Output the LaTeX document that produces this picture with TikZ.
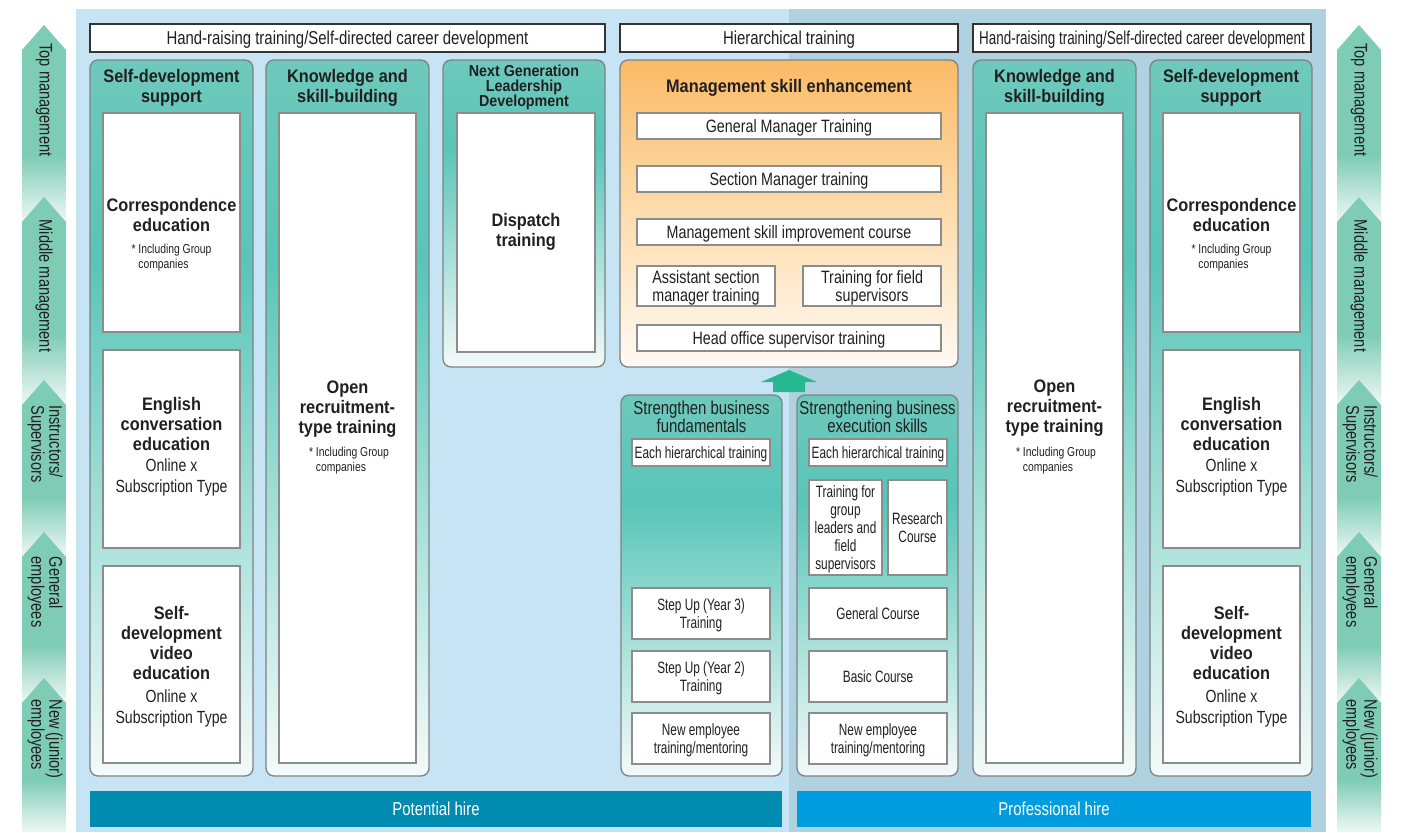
\documentclass[tikz,border=0pt]{standalone}
\usepackage{fontspec}
\setmainfont{Liberation Sans}[FakeStretch=0.8]
\newfontfamily\bdfam{Liberation Sans}[FakeStretch=0.9]
\newfontfamily\cnfam{Liberation Sans}[FakeStretch=0.72]

\definecolor{bgL}{RGB}{199,228,244}
\definecolor{bgR}{RGB}{176,210,224}
\definecolor{txt}{RGB}{35,31,32}
\definecolor{tealtop}{RGB}{110,201,188}
\definecolor{tealmid}{RGB}{88,197,184}
\definecolor{tealbot}{RGB}{244,250,249}
\definecolor{ortop}{RGB}{251,186,102}
\definecolor{ormid}{RGB}{253,214,160}
\definecolor{orbot}{RGB}{255,250,243}
\definecolor{arrgreen}{RGB}{126,204,180}
\definecolor{arrbot}{RGB}{240,248,245}
\definecolor{colborder}{RGB}{125,132,133}
\definecolor{boxborder}{RGB}{140,140,140}
\definecolor{potcol}{RGB}{0,139,176}
\definecolor{procol}{RGB}{0,157,222}
\definecolor{upgreen}{RGB}{40,184,145}

\pgfdeclareverticalshading{tealshade}{100bp}{color(0bp)=(tealbot); color(25bp)=(tealbot); color(61bp)=(tealmid); color(75bp)=(tealtop); color(100bp)=(tealtop)}
\pgfdeclareverticalshading{orshade}{100bp}{color(0bp)=(orbot); color(25bp)=(orbot); color(55bp)=(ormid); color(75bp)=(ortop); color(100bp)=(ortop)}
\pgfdeclareverticalshading{arrshade}{100bp}{color(0bp)=(arrbot); color(25bp)=(arrbot); color(42bp)=(arrgreen); color(75bp)=(arrgreen); color(100bp)=(arrgreen)}

\newcommand\incgroup{\begin{tabular}{@{}l@{}}* Including Group\\\hphantom{* }companies\end{tabular}}

\tikzset{
  wh/.style 2 args={minimum width={#1*0.75pt}, minimum height={#2*0.75pt}},
  hdr/.style={draw=black!80, fill=white, line width=0.8pt, inner sep=0pt, text=txt, text depth=0pt, font=\fontsize{14}{16}\selectfont},
  col/.style={draw=colborder, line width=1pt, rounded corners=6pt, shade, shading=tealshade, inner sep=0pt},
  orcol/.style={draw=colborder, line width=1pt, rounded corners=6pt, shade, shading=orshade, inner sep=0pt},
  wbox/.style={draw=boxborder, line width=1pt, fill=white, inner sep=0pt},
  lbl/.style={text=txt, align=center, inner sep=0pt},
  ttl/.style={lbl, font=\bdfam\bfseries\fontsize{13.6}{15}\selectfont},
  sub/.style={lbl, font=\fontsize{13.2}{15.5}\selectfont},
  notetxt/.style={lbl, font=\fontsize{9.7}{11}\selectfont},
  otxt/.style={lbl, text depth=0pt, font=\fontsize{13.4}{12.8}\selectfont},
  stxt/.style={lbl, text depth=0pt, font=\cnfam\fontsize{12.3}{13.5}\selectfont},
  ctitle/.style={lbl, font=\fontsize{14}{13.3}\selectfont},
  side/.style={text=txt, align=left, inner sep=0pt, rotate=-90, font=\fontsize{13.7}{13.5}\selectfont},
  bar/.style={inner sep=0pt, text=white, font=\fontsize{14}{16}\selectfont},
}

\begin{document}
\begin{tikzpicture}[x=0.75pt,y=-0.75pt]
\useasboundingbox (0,0) rectangle (1423,832);
\fill[bgL] (76,9) rectangle (789,832);
\fill[bgR] (789,9) rectangle (1326,832);

% side arrows
\foreach \xa/\xb in {22/66, 1337/1381}{
  \foreach \t/\b in {25/222, 197/405, 380/557, 532/703, 678/832}{
    \shade[shading=arrshade] (\xa,\t+25) -- ({(\xa+\xb)/2},\t) -- (\xb,\t+25) -- (\xb,\b) -- (\xa,\b) -- cycle;
  }
}
\node[side] (la1) at (44,100) {Top management};
\node[side] (la2) at (44,286) {Middle management};
\node[side] (la3) at (45,444) {Instructors/\\Supervisors};
\node[side] (la4) at (45,592) {General\\employees};
\node[side] (la5) at (45,739) {New (junior)\\employees};
\node[side] (ra1) at (1359,100) {Top management};
\node[side] (ra2) at (1359,286) {Middle management};
\node[side] (ra3) at (1360,444) {Instructors/\\Supervisors};
\node[side] (ra4) at (1360,592) {General\\employees};
\node[side] (ra5) at (1360,739) {New (junior)\\employees};

% headers
\node[hdr, wh={515}{28}] (h1) at (347.5,38) {Hand-raising training/Self-directed career development};
\node[hdr, wh={338}{28}] (h2) at (789,38) {Hierarchical training};
\node[hdr, wh={338}{28}, font=\cnfam\fontsize{14}{16}\selectfont] (h3) at (1142,38) {Hand-raising training/Self-directed career development};

% columns
\node[col, wh={163}{716}] (c1) at (171.5,418) {};
\node[col, wh={163}{716}] (c2) at (347.5,418) {};
\node[col, wh={162}{307}] (c3) at (524,213.5) {};
\node[orcol, wh={338}{307}] (c0) at (789,213.5) {};
\node[col, wh={161}{381}] (c4) at (701.5,585.5) {};
\node[col, wh={161}{381}] (c5) at (877.5,585.5) {};
\node[col, wh={163}{716}] (c6) at (1054.5,418) {};
\node[col, wh={162}{716}] (c7) at (1231,418) {};

% column 1
\node[ttl] (t1) at (171.5,88) {Self-development\\support};
\node[wbox, wh={137}{219}] (b11) at (171.5,222.5) {};
\node[wbox, wh={137}{198}] (b12) at (171.5,449) {};
\node[wbox, wh={137}{197}] (b13) at (171.5,664.5) {};
\node[ttl] (b11t) at (171.5,215) {Correspondence\\education};
\node[notetxt] (b11n) at (171.5,258) {\incgroup};
\node[ttl] (b12t) at (171.5,424) {English\\conversation\\education};
\node[sub] (b12s) at (171.5,477.5) {Online x\\Subscription Type};
\node[ttl] (b13t) at (171.5,643) {Self-\\development\\video\\education};
\node[sub] (b13s) at (171.5,708.5) {Online x\\Subscription Type};

% column 2
\node[ttl] (t2) at (347.5,88) {Knowledge and\\skill-building};
\node[wbox, wh={137}{650}] (b21) at (347.5,438) {};
\node[ttl] (b21t) at (347.5,409) {Open\\recruitment-\\type training};
\node[notetxt] (b21n) at (349,461) {\incgroup};

% column 3
\node[lbl, font=\bdfam\bfseries\fontsize{11.9}{11.3}\selectfont] (t3) at (524,87) {Next Generation\\Leadership\\Development};
\node[wbox, wh={138}{239}] (b31) at (526,232.5) {};
\node[ttl] (b31t) at (526,232) {Dispatch\\training};

% management skill enhancement
\node[ttl] (t0) at (789,88) {Management skill enhancement};
\node[wbox, wh={304}{26}, otxt] (gm) at (789,126) {General Manager Training};
\node[wbox, wh={304}{26}, otxt] (sm) at (789,179) {Section Manager training};
\node[wbox, wh={304}{26}, otxt] (msi) at (789,232) {Management skill improvement course};
\node[wbox, wh={138}{40}, otxt] (asm) at (706,286) {Assistant section\\manager training};
\node[wbox, wh={138}{40}, otxt] (tfs) at (872,286) {Training for field\\supervisors};
\node[wbox, wh={304}{26}, otxt] (hos) at (789,338) {Head office supervisor training};

% up arrow
\fill[upgreen] (773,392) -- (773,382) -- (761,382) -- (789,370) -- (817,382) -- (805,382) -- (805,392) -- cycle;

% column 4
\node[ctitle] (t4) at (701.5,417) {Strengthen business\\fundamentals};
\node[wbox, wh={138}{27}, stxt] (b41) at (701,452.5) {Each hierarchical training};
\node[wbox, wh={138}{51}, stxt] (b42) at (701,613.5) {Step Up (Year 3)\\Training};
\node[wbox, wh={138}{51}, stxt] (b43) at (701,676.5) {Step Up (Year 2)\\Training};
\node[wbox, wh={138}{51}, stxt] (b44) at (701,738.5) {New employee\\training/mentoring};

% column 5
\node[ctitle] (t5) at (877.5,417) {Strengthening business\\execution skills};
\node[wbox, wh={138}{27}, stxt] (b51) at (878,452.5) {Each hierarchical training};
\node[wbox, wh={73}{95}, stxt] (b52) at (845.5,527.5) {Training for\\group\\leaders and\\field\\supervisors};
\node[wbox, wh={59}{95}, stxt] (b53) at (917.5,527.5) {Research\\Course};
\node[wbox, wh={138}{51}, stxt] (b54) at (878,613.5) {General Course};
\node[wbox, wh={138}{51}, stxt] (b55) at (878,676.5) {Basic Course};
\node[wbox, wh={138}{51}, stxt] (b56) at (878,738.5) {New employee\\training/mentoring};

% column 6
\node[ttl] (t6) at (1054.5,88) {Knowledge and\\skill-building};
\node[wbox, wh={137}{650}] (b61) at (1054.5,438) {};
\node[ttl] (b61t) at (1054.5,408) {Open\\recruitment-\\type training};
\node[notetxt] (b61n) at (1056,461) {\incgroup};

% column 7
\node[ttl] (t7) at (1231,88) {Self-development\\support};
\node[wbox, wh={137}{219}] (b71) at (1231.5,222.5) {};
\node[wbox, wh={137}{198}] (b72) at (1231.5,449) {};
\node[wbox, wh={137}{197}] (b73) at (1231.5,664.5) {};
\node[ttl] (b71t) at (1231.5,215) {Correspondence\\education};
\node[notetxt] (b71n) at (1231.5,258) {\incgroup};
\node[ttl] (b72t) at (1231.5,424) {English\\conversation\\education};
\node[sub] (b72s) at (1231.5,477.5) {Online x\\Subscription Type};
\node[ttl] (b73t) at (1231.5,643) {Self-\\development\\video\\education};
\node[sub] (b73s) at (1231.5,708.5) {Online x\\Subscription Type};

% bottom bars
\node[bar, fill=potcol, wh={692}{36}] (pot) at (436,809) {Potential hire};
\node[bar, fill=procol, wh={514}{36}] (pro) at (1054,809) {Professional hire};
\end{tikzpicture}
\end{document}
